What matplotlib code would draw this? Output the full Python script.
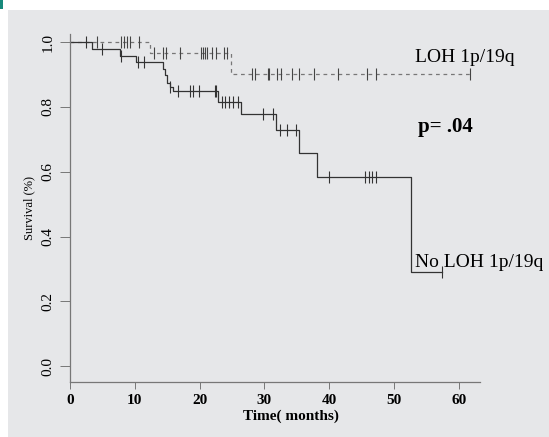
import numpy as np
import matplotlib
matplotlib.use('Agg')
import matplotlib.pyplot as plt
from matplotlib.patches import Rectangle

# Kaplan-Meier steps (months, survival)
noloh_times = [0, 3.4, 7.7, 10.2, 14.4, 14.7, 14.9, 15.4, 15.9, 22.8, 26.4, 31.8, 35.3, 38.1, 52.6, 57.4]
noloh_surv = [1.0, 0.979, 0.958, 0.938, 0.917, 0.898, 0.873, 0.862, 0.85, 0.815, 0.778, 0.73, 0.657, 0.583, 0.29, 0.29]
noloh_censor = [2.5, 4.9, 7.9, 10.5, 11.4, 15.4, 16.7, 18.5, 19.0, 19.9, 22.4, 22.6,
                23.4, 23.9, 24.5, 25.2, 25.9, 29.8, 31.3, 32.4, 33.5, 34.9,
                40.0, 45.5, 46.1, 46.6, 47.3, 57.4]

loh_times = [0, 12.4, 24.8, 61.8]
loh_surv = [1.0, 0.966, 0.903, 0.903]
loh_censor = [4.2, 7.9, 8.3, 8.8, 9.3, 10.6,
              13.0, 14.4, 14.8, 17.0, 20.3, 20.6, 20.8, 21.1, 21.9, 22.6, 23.8, 24.3,
              28.1, 28.6, 30.6, 30.8, 32.0, 32.5, 34.2, 35.4, 37.7, 41.4, 45.9, 47.3, 61.8]

xticks = [0, 10, 20, 30, 40, 50, 60]
yticks = [0.0, 0.2, 0.4, 0.6, 0.8, 1.0]


def surv_at(times, surv, t):
    idx = np.searchsorted(np.array(times), np.array(t), side='right') - 1
    return np.array(surv)[idx]


plt.rcParams['font.family'] = ['Liberation Serif', 'DejaVu Serif']

fig = plt.figure(figsize=(5.49, 4.37), dpi=100, facecolor='white')
bg = '#e6e7e9'
fig.patches.append(Rectangle((8 / 549, 0), 1, 1 - 10 / 437, transform=fig.transFigure,
                             facecolor=bg, edgecolor='none', zorder=-10))
fig.patches.append(Rectangle((0, 1 - 9 / 437), 3 / 549, 9 / 437, transform=fig.transFigure,
                             facecolor='#17897b', edgecolor='none', zorder=-10))

ax = fig.add_axes([70 / 549, 1 - 382 / 437, 410 / 549, 348 / 437])
ax.set_facecolor('none')

ax.step(loh_times, loh_surv, where='post', color='#777777', lw=0.9, linestyle=(0, (3, 3)))
ax.step(noloh_times, noloh_surv, where='post', color='#333333', lw=0.9)
ax.plot(loh_censor, surv_at(loh_times, loh_surv, loh_censor), linestyle='none',
        marker='|', markersize=9, markeredgewidth=0.8, color='#444444')
ax.plot(noloh_censor, surv_at(noloh_times, noloh_surv, noloh_censor), linestyle='none',
        marker='|', markersize=9, markeredgewidth=0.8, color='#333333')

ax.set_xlim(0, 63.3)
ax.set_ylim(-0.049, 1.025)
ax.set_xticks(xticks)
ax.set_yticks(yticks)
ax.set_xticklabels([str(v) for v in xticks], fontsize=11, fontweight='bold')
ax.set_yticklabels(['%.1f' % v for v in yticks], fontsize=11, rotation=90, va='center')
ax.tick_params(axis='x', direction='out', length=5, width=0.7, color='#777777', pad=4)
ax.tick_params(axis='y', direction='out', length=7, width=0.7, color='#777777', pad=4)

for s in ['top', 'right']:
    ax.spines[s].set_visible(False)
for s in ['left', 'bottom']:
    ax.spines[s].set_color('#777777')
    ax.spines[s].set_linewidth(0.9)

ax.set_xlabel('Time( months)', fontsize=11, fontweight='bold', labelpad=0)
ax.xaxis.set_label_coords(0.54, -0.08)
ax.set_ylabel('Survival (%)', fontsize=9)
ax.yaxis.set_label_coords(-0.085, 0.5)

ax.text(53.2, 0.954, 'LOH 1p/19q', fontsize=14, va='center', ha='left')
ax.text(53.7, 0.738, 'p= .04', fontsize=15, fontweight='bold', va='center', ha='left')
ax.text(53.2, 0.321, 'No LOH 1p/19q', fontsize=14, va='center', ha='left')

fig.savefig('out.png', dpi=100, facecolor=fig.get_facecolor())
